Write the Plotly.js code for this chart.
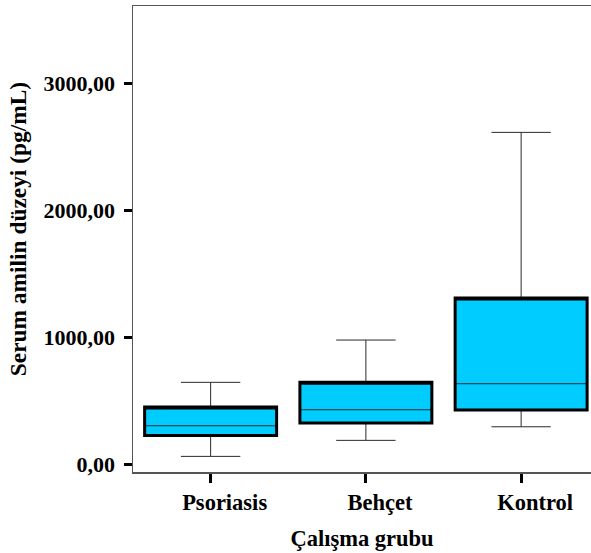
<!DOCTYPE html>
<html>
<head>
<meta charset="utf-8">
<script src="https://cdn.plot.ly/plotly-3.0.1.min.js"></script>
<style>html,body{margin:0;padding:0;background:#fff;overflow:hidden}#chart{width:591px;height:553px}</style>
</head>
<body>
<div id="chart"></div>
<script>
const groups = ["Psoriasis", "Behçet", "Kontrol"];
const lowerWhisker = [66, 192, 299];
const q1Values = [231, 328, 431];
const medianValues = [307, 433, 638];
const q3Values = [454, 649, 1313];
const upperWhisker = [649, 982, 2617];
const yTickValues = [0, 1000, 2000, 3000];
const yTickLabels = ["0,00", "1000,00", "2000,00", "3000,00"];
const xTitle = "Çalışma grubu";
const yTitle = "Serum amilin düzeyi (pg/mL)";

const FONT = "Liberation Serif, Times New Roman, serif";

const base = {
  type: "box",
  x: groups,
  q1: q1Values,
  median: medianValues,
  q3: q3Values,
  lowerfence: lowerWhisker,
  upperfence: upperWhisker,
  width: 0.85,
  whiskerwidth: 0.45,
  fillcolor: "#00CCFF",
  line: {color: "#2a2a2a", width: 1},
  boxpoints: false,
  hoverinfo: "skip",
  showlegend: false
};
const outline = {
  type: "box",
  x: groups,
  q1: q1Values,
  median: q3Values,
  q3: q3Values,
  lowerfence: q1Values,
  upperfence: q3Values,
  width: 0.85,
  whiskerwidth: 0,
  fillcolor: "rgba(0,0,0,0)",
  line: {color: "#000", width: 3},
  boxpoints: false,
  hoverinfo: "skip",
  showlegend: false
};

const layout = {
  width: 591, height: 553,
  margin: {l: 133, r: 0, t: 6, b: 81, pad: 0},
  paper_bgcolor: "#fff", plot_bgcolor: "#fff",
  font: {family: FONT, size: 22, color: "#000", weight: "bold"},
  boxmode: "overlay",
  xaxis: {
    type: "category",
    range: [-0.5, 2.45],
    showline: true, linecolor: "#555", linewidth: 1.5, mirror: true,
    showgrid: false, zeroline: false,
    ticks: "outside", ticklen: 9, tickwidth: 3, tickcolor: "#000",
    ticklabelshift: 14,
    tickfont: {family: FONT, size: 22.5, weight: "bold", color: "#000"},
    title: {text: xTitle, font: {family: FONT, size: 22.5, weight: "bold", color: "#000"}, standoff: 16}
  },
  yaxis: {
    range: [-57, 3612],
    showline: true, linecolor: "#555", linewidth: 1.5,
    showgrid: false, zeroline: false,
    tickvals: yTickValues, ticktext: yTickLabels,
    ticks: "outside", ticklen: 8, tickwidth: 3, tickcolor: "#000",
    ticklabelstandoff: 4,
    tickfont: {family: FONT, size: 22, weight: "bold", color: "#000"}
  },
  annotations: [{
    text: yTitle, textangle: -90,
    xref: "paper", yref: "paper",
    x: -0.251, y: 0.521, xanchor: "center", yanchor: "middle",
    showarrow: false,
    font: {family: FONT, size: 23.4, weight: "bold", color: "#000"}
  }]
};

Plotly.newPlot("chart", [base, outline], layout, {staticPlot: true, displayModeBar: false});
</script>
</body>
</html>
